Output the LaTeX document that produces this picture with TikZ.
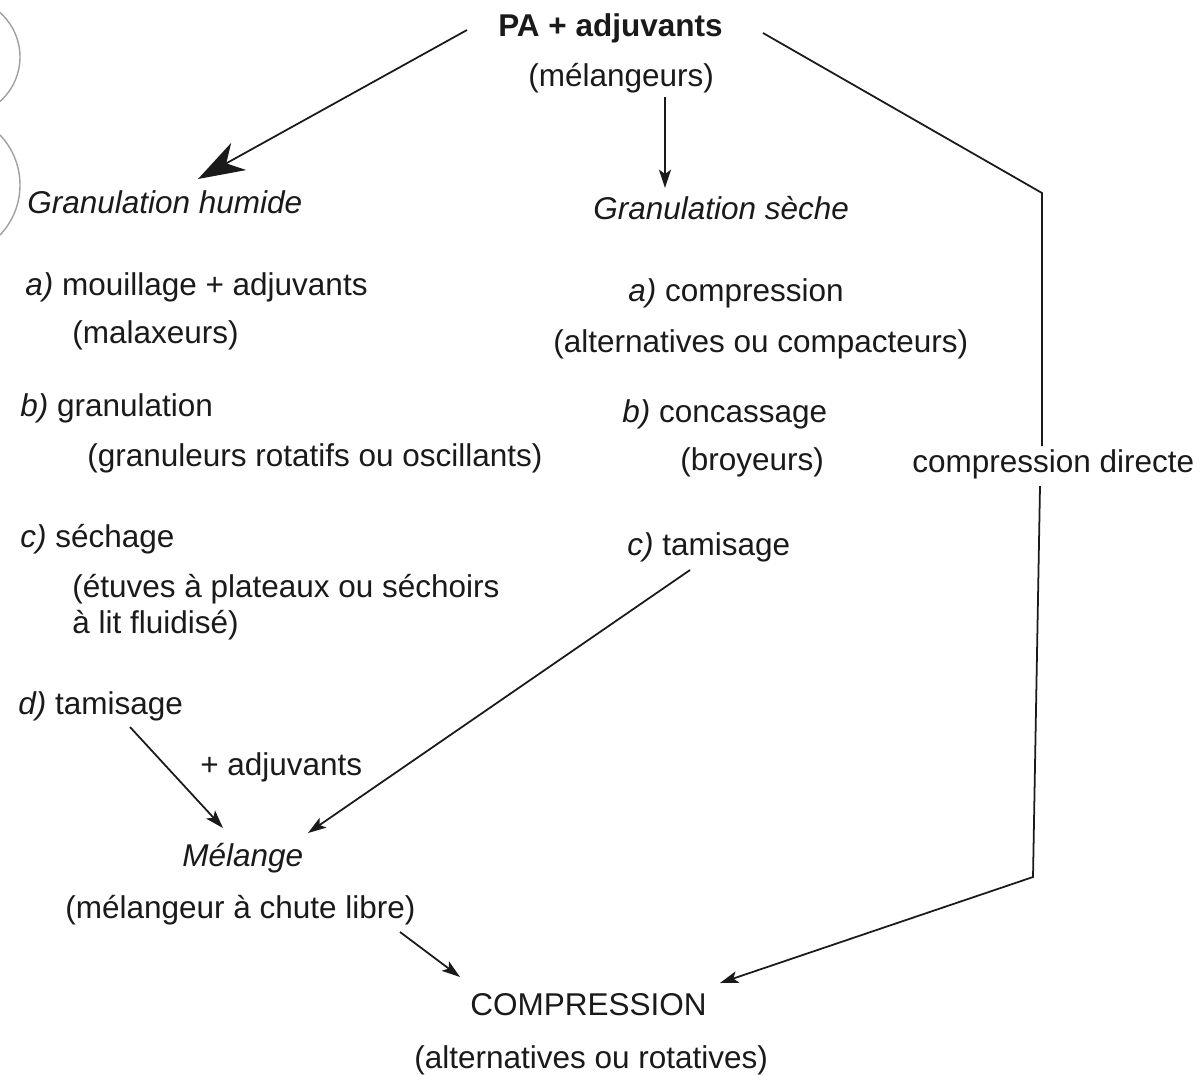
\documentclass[tikz,border=0pt]{standalone}
\usepackage{fontspec}
\setmainfont{Liberation Sans}
\usetikzlibrary{arrows.meta}
\definecolor{ink}{HTML}{1A1A1A}
\definecolor{ringgrey}{HTML}{A0A0A0}
\begin{document}
\begin{tikzpicture}[x=0.025cm,y=-0.025cm,
  txt/.style={inner sep=0pt, anchor=base west, font=\fontsize{22.4}{26}\selectfont, text=ink},
  boldtxt/.style={txt, font=\fontsize{22.4}{26}\selectfont\bfseries},
  conn/.style={draw=ink, line width=1.25pt},
  arr/.style={conn, -{Stealth[length=13pt,width=8.5pt,inset=3pt]}},
  bigarr/.style={conn, -{Stealth[length=33pt,width=22pt,inset=10pt]}},
  ring/.style={draw=ringgrey, line width=1pt}
]
\clip (0,0) rectangle (1200,1074);
\fill[white] (0,0) rectangle (1200,1074);
% grey rings at the left edge
\draw[ring] (-39.5,57) circle[radius=59.5*0.025cm];
\draw[ring] (-52.5,185) circle[radius=72.5*0.025cm];

% top
\node[boldtxt] (pa) at (498,36) {PA + adjuvants};
\node[txt] (mel) at (528,86) {(mélangeurs)};

% left column
\node[txt] (gh) at (27,213) {\itshape Granulation humide};
\node[txt] (ha) at (25,295) {\textit{a)} mouillage + adjuvants};
\node[txt] (hamach) at (72,343) {(malaxeurs)};
\node[txt] (hb) at (20,416) {\textit{b)} granulation};
\node[txt] (hbmach) at (87,466) {(granuleurs rotatifs ou oscillants)};
\node[txt] (hc) at (20,547) {\textit{c)} séchage};
\node[txt] (hcmach) at (72,597) {(étuves à plateaux ou séchoirs};
\node[txt] (hcmach2) at (72,633) {à lit fluidisé)};
\node[txt] (hd) at (18,714) {\textit{d)} tamisage};
\node[txt] (adj) at (200,775) {+ adjuvants};
\node[txt] (melange) at (182,866) {\itshape Mélange};
\node[txt] (melmach) at (65,918) {(mélangeur à chute libre)};

% right column
\node[txt] (gs) at (593,219) {\itshape Granulation sèche};
\node[txt] (sa) at (628,301) {\textit{a)} compression};
\node[txt] (samach) at (553,352) {(alternatives ou compacteurs)};
\node[txt] (sb) at (622,422) {\textit{b)} concassage};
\node[txt] (sbmach) at (680,470) {(broyeurs)};
\node[txt] (sc) at (627,555) {\textit{c)} tamisage};

% direct compression
\node[txt] (cd) at (912,472) {compression directe};

% bottom
\node[txt] (comp) at (470,1015) {COMPRESSION};
\node[txt] (compmach) at (414,1068) {(alternatives ou rotatives)};

% connector points
\coordinate (hs) at (467,30);
\coordinate (he) at (198,179);
\coordinate (vs) at (665,97);
\coordinate (ve) at (665,188);
\coordinate (rs) at (763,33);
\coordinate (rc1) at (1042,193);
\coordinate (rg1) at (1042,446);
\coordinate (rg2) at (1040,486);
\coordinate (rc2) at (1033,877);
\coordinate (re) at (720,983);
\coordinate (ds) at (130,727);
\coordinate (de) at (223,828);
\coordinate (cs) at (690,570);
\coordinate (ce) at (308,833);
\coordinate (ms) at (400,932);
\coordinate (me) at (460,977);

% connectors
\draw[bigarr] (hs) -- (he);
\draw[arr] (vs) -- (ve);
\draw[conn] (rs) -- (rc1) -- (rg1);
\draw[arr] (rg2) -- (rc2) -- (re);
\draw[arr] (ds) -- (de);
\draw[arr] (cs) -- (ce);
\draw[arr] (ms) -- (me);
\end{tikzpicture}
\end{document}
